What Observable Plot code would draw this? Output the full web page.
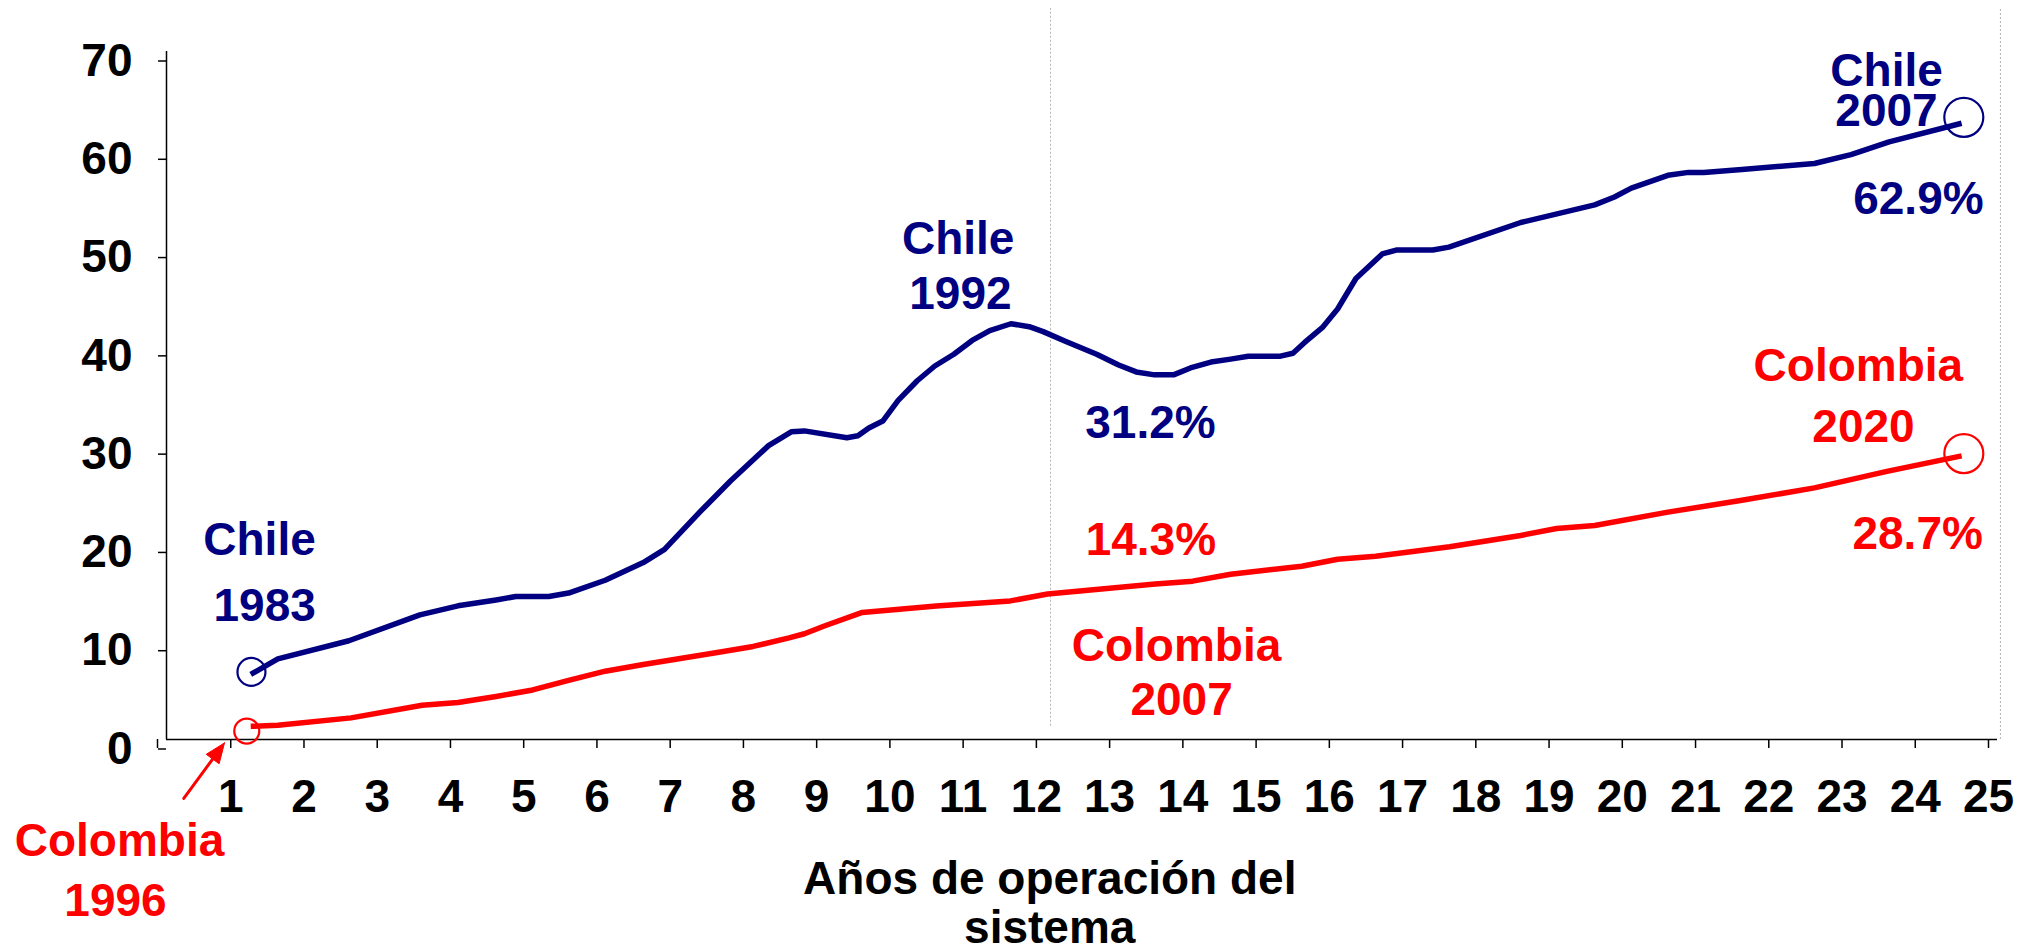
<!DOCTYPE html>
<html>
<head>
<meta charset="utf-8">
<script src="https://cdn.jsdelivr.net/npm/d3@7"></script>
<script src="https://cdn.jsdelivr.net/npm/@observablehq/plot@0.6"></script>
<style>
  html, body { margin: 0; padding: 0; background: #ffffff; }
</style>
</head>
<body>
<div id="chart"></div>
<script>
// ---- Data ----
const xTicks = d3.range(0, 26);
const yTicks = [0, 10, 20, 30, 40, 50, 60, 70];

const chileX = [1.15, 1.52, 2.49, 3.46, 3.98, 4.50, 4.77, 5.22, 5.49, 5.99, 6.51, 6.80, 7.29, 7.70, 8.22, 8.53, 8.71, 9.29, 9.44, 9.59, 9.78, 9.99, 10.25, 10.49, 10.75, 11.00, 11.24, 11.53, 11.78, 11.97, 12.28, 12.70, 13.00, 13.24, 13.49, 13.75, 13.98, 14.26, 14.53, 14.77, 15.21, 15.38, 15.54, 15.78, 15.99, 16.24, 16.60, 16.79, 17.29, 17.51, 18.49, 19.50, 19.77, 20.00, 20.50, 20.78, 20.99, 21.51, 22.50, 23.00, 23.52, 24.51];
const chileY = [6.62, 8.2, 10.05, 12.68, 13.6, 14.2, 14.55, 14.55, 14.9, 16.2, 18.0, 19.35, 23.2, 26.3, 29.9, 31.3, 31.4, 30.7, 30.9, 31.7, 32.4, 34.5, 36.5, 38.0, 39.2, 40.6, 41.6, 42.3, 42.0, 41.5, 40.5, 39.2, 38.1, 37.4, 37.1, 37.1, 37.8, 38.4, 38.7, 39.0, 39.0, 39.3, 40.4, 41.9, 43.8, 46.9, 49.4, 49.8, 49.8, 50.1, 52.6, 54.4, 55.2, 56.1, 57.4, 57.7, 57.7, 58.0, 58.6, 59.5, 60.8, 62.7];

const colombiaX = [1.15, 1.52, 2.52, 3.49, 3.98, 4.50, 5.00, 5.49, 5.99, 6.51, 7.52, 8.01, 8.50, 8.71, 8.99, 9.50, 10.51, 11.52, 12.03, 13.50, 14.01, 14.53, 15.50, 15.99, 16.51, 17.52, 18.49, 18.98, 19.50, 20.50, 21.51, 22.50, 23.49, 24.51];
const colombiaY = [1.34, 1.44, 2.2, 3.48, 3.76, 4.38, 5.04, 6.01, 6.95, 7.63, 8.85, 9.47, 10.34, 10.76, 11.57, 12.93, 13.59, 14.1, 14.8, 15.81, 16.11, 16.82, 17.63, 18.34, 18.64, 19.61, 20.76, 21.47, 21.77, 23.13, 24.34, 25.6, 27.28, 28.86];

const colors = { Chile: "#000080", Colombia: "#ff0000" };

// circled start / end points
const circles = [
  { country: "Chile", x: 1.16, y: 6.88, r: 14 },
  { country: "Colombia", x: 1.096, y: 0.86, r: 12.5 },
  { country: "Chile", x: 24.54, y: 63.3, r: 19.5 },
  { country: "Colombia", x: 24.54, y: 29.09, r: 19.5 }
];

// annotation texts (x centre, y baseline of last line, in data units)
const annotations = [
  { country: "Chile", text: "Chile", x: 1.27, y: 18.81, lh: 1 },
  { country: "Chile", text: "1983", x: 1.34, y: 12.03, lh: 1 },
  { country: "Chile", text: "Chile", x: 10.81, y: 49.36, lh: 1 },
  { country: "Chile", text: "1992", x: 10.84, y: 43.83, lh: 1 },
  { country: "Chile", text: "31.2%", x: 13.435, y: 30.71, lh: 1 },
  { country: "Colombia", text: "14.3%", x: 13.44, y: 18.81, lh: 1 },
  { country: "Colombia", text: "Colombia", x: 13.79, y: 8.02, lh: 1 },
  { country: "Colombia", text: "2007", x: 13.86, y: 2.45, lh: 1 },
  { country: "Chile", text: "Chile\n2007", x: 23.485, y: 62.47, lh: 0.85 },
  { country: "Chile", text: "62.9%", x: 23.92, y: 53.43, lh: 1 },
  { country: "Colombia", text: "Colombia", x: 23.10, y: 36.44, lh: 1 },
  { country: "Colombia", text: "2020", x: 23.17, y: 30.27, lh: 1 },
  { country: "Colombia", text: "28.7%", x: 23.91, y: 19.43, lh: 1 },
  { country: "Colombia", text: "Colombia", x: -0.642, y: -11.81, lh: 1 },
  { country: "Colombia", text: "1996", x: -0.696, y: -17.96, lh: 1 }
];

const axisTitle = [
  { text: "Años de operación del", x: 12.06, y: -15.68 },
  { text: "sistema", x: 12.06, y: -20.75 }
];

const arrowData = { x1: 0.236, y1: -6.0, x2: 0.792, y2: -0.346 };
const dividers = [{ x: 12.07, y1: 1.35, y2: 74.37 }, { x: 25.04, y1: 0, y2: 74.37 }];

// ---- Layout ----
const W = 2033, H = 952, ML = 166, MR = 36, MT = 51, MB = 213;
const X_DOMAIN = [0, 25], Y_DOMAIN = [0, 70];
const pxPerX = (W - ML - MR) / (X_DOMAIN[1] - X_DOMAIN[0]);
const pxPerY = (H - MT - MB) / (Y_DOMAIN[1] - Y_DOMAIN[0]);

// arrow head (filled triangle) derived from the arrow endpoints
function arrowParts(a, headLen, halfW) {
  const tx = a.x2 * pxPerX, ty = -a.y2 * pxPerY;
  const sx = a.x1 * pxPerX, sy = -a.y1 * pxPerY;
  const dx = tx - sx, dy = ty - sy, L = Math.hypot(dx, dy);
  const ux = dx / L, uy = dy / L, nx = -uy, ny = ux;
  const bx = tx - headLen * ux, by = ty - headLen * uy;
  const toData = (px, py) => ({ x: px / pxPerX, y: -py / pxPerY });
  return {
    shaft: [toData(sx, sy), toData(bx + ux * 2, by + uy * 2)],
    head: [toData(tx, ty), toData(bx + halfW * nx, by + halfW * ny), toData(bx - halfW * nx, by - halfW * ny), toData(tx, ty)]
  };
}
const arrow = arrowParts(arrowData, 20, 8);

// ---- Build tables ----
const chile = chileX.map((x, i) => ({ x, y: chileY[i] }));
const colombia = colombiaX.map((x, i) => ({ x, y: colombiaY[i] }));

const FONT = "'Liberation Sans', Arial, Helvetica, sans-serif";

const plot = Plot.plot({
  width: W,
  height: H,
  marginLeft: ML,
  marginRight: MR,
  marginTop: MT,
  marginBottom: MB,
  style: { fontFamily: FONT, fontSize: "46px", fontWeight: "bold", background: "#ffffff", color: "#000", overflow: "visible" },
  x: { domain: X_DOMAIN, axis: null },
  y: { domain: Y_DOMAIN, axis: null },
  marks: [
    Plot.ruleX(dividers, { x: "x", y1: "y1", y2: "y2", stroke: "#b4b4b4", strokeWidth: 1, strokeDasharray: "2,2" }),
    Plot.axisY({ ticks: yTicks, tickSize: 8, tickPadding: 26, dy: 9.5, stroke: "#000", strokeWidth: 1.5, fill: "#000", fontSize: 46, fontWeight: "bold", label: null, tickFormat: d => String(d) }),
    Plot.axisX({ ticks: xTicks, tickSize: 9, tickPadding: 31, dx: -9, stroke: "#000", strokeWidth: 1.5, fill: "#000", fontSize: 46, fontWeight: "bold", label: null, tickFormat: d => d === 0 ? "" : String(d) }),
    Plot.ruleX([0], { y1: 0, y2: 70, stroke: "#000", strokeWidth: 1.5 }),
    Plot.ruleY([0], { x1: 0, x2: 25, stroke: "#000", strokeWidth: 1.5 }),
    Plot.line(chile, { x: "x", y: "y", stroke: colors.Chile, strokeWidth: 5.5, strokeLinejoin: "round", strokeLinecap: "butt" }),
    Plot.line(colombia, { x: "x", y: "y", stroke: colors.Colombia, strokeWidth: 5.5, strokeLinejoin: "round", strokeLinecap: "butt" }),
    ...circles.map(c => Plot.dot([c], { x: "x", y: "y", r: c.r, stroke: colors[c.country], strokeWidth: 2.2, fill: "none" })),
    Plot.line(arrow.shaft, { x: "x", y: "y", stroke: colors.Colombia, strokeWidth: 3 }),
    Plot.line(arrow.head, { x: "x", y: "y", stroke: colors.Colombia, strokeWidth: 1, fill: colors.Colombia }),
    ...annotations.map(a => Plot.text([a], { x: "x", y: "y", text: "text", fill: colors[a.country], fontSize: 46, fontWeight: "bold", lineAnchor: "bottom", textAnchor: "middle", lineHeight: a.lh })),
    Plot.text(axisTitle, { x: "x", y: "y", text: "text", fill: "#000", fontSize: 46, fontWeight: "bold", lineAnchor: "bottom", textAnchor: "middle" })
  ]
});

document.getElementById("chart").appendChild(plot);
</script>
</body>
</html>
